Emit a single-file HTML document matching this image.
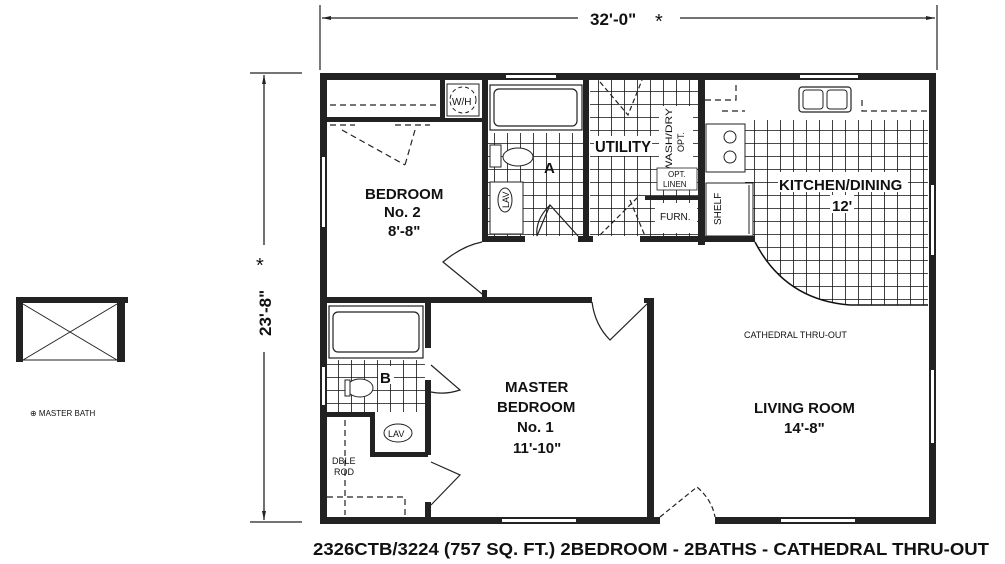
<!DOCTYPE html>
<html><head><meta charset="utf-8"><style>
html,body{margin:0;padding:0;background:#fff;}
svg{display:block;}
text{font-family:"Liberation Sans",sans-serif;fill:#111;}
.b{font-weight:bold;}
</style></head><body>
<svg width="1005" height="564" viewBox="0 0 1005 564" xmlns="http://www.w3.org/2000/svg">
<defs>
<pattern id="t" width="13" height="13" patternUnits="userSpaceOnUse">
<rect width="13" height="13" fill="#fff"/>
<path d="M0 0H13M0 0V13" stroke="#111" stroke-width="1.6"/>
</pattern>
</defs>
<!-- top dimension -->
<line x1="320" y1="5" x2="320" y2="70" stroke="#222" stroke-width="1.2"/>
<line x1="937" y1="5" x2="937" y2="70" stroke="#222" stroke-width="1.2"/>
<line x1="322" y1="18" x2="578" y2="18" stroke="#222" stroke-width="1.3"/>
<line x1="680" y1="18" x2="935" y2="18" stroke="#222" stroke-width="1.3"/>
<path d="M322 18l9-2v4z M935 18l-9-2v4z" fill="#222"/>
<text x="590" y="25" class="b" font-size="17">32'-0"</text>
<text x="655" y="28" font-size="20">*</text>
<!-- left dimension -->
<line x1="250" y1="73" x2="302" y2="73" stroke="#222" stroke-width="1.2"/>
<line x1="250" y1="522" x2="302" y2="522" stroke="#222" stroke-width="1.2"/>
<line x1="264" y1="75" x2="264" y2="245" stroke="#222" stroke-width="1.3"/>
<line x1="264" y1="352" x2="264" y2="520" stroke="#222" stroke-width="1.3"/>
<path d="M264 75l-2 9h4z M264 520l-2-9h4z" fill="#222"/>
<text transform="translate(271,336) rotate(-90)" class="b" font-size="17">23'-8"</text>
<text x="256" y="272" font-size="20">*</text>
<!-- master bath option -->
<rect x="16" y="297" width="112" height="6" fill="#222"/>
<rect x="16" y="297" width="7" height="65" fill="#222"/>
<rect x="117" y="297" width="8" height="65" fill="#222"/>
<path d="M23 304L117 360M117 304L23 360M23 360H117" stroke="#222" stroke-width="1"/>
<text x="30" y="416" font-size="8">⊕ MASTER BATH</text>
<!-- tile areas -->
<rect x="488" y="133" width="95" height="103" fill="url(#t)"/>
<rect x="590" y="80" width="108" height="156" fill="url(#t)"/>
<rect x="327" y="360" width="98" height="52" fill="url(#t)"/>
<path d="M745 120H928V305H850Q785 300 755 242H745Z" fill="url(#t)"/>
<path d="M755 242Q785 300 850 305H928" fill="none" stroke="#111" stroke-width="1.5"/>
<!-- outer walls -->
<rect x="320" y="73" width="616" height="7" fill="#222"/>
<rect x="320" y="73" width="7" height="451" fill="#222"/>
<rect x="929" y="73" width="7" height="451" fill="#222"/>
<rect x="320" y="517" width="616" height="7" fill="#222"/>
<!-- windows -->
<rect x="322" y="157" width="3" height="70" fill="#fff"/>
<rect x="506" y="75" width="50" height="3" fill="#fff"/>
<rect x="800" y="75" width="58" height="3" fill="#fff"/>
<rect x="931" y="185" width="3" height="70" fill="#fff"/>
<rect x="931" y="370" width="3" height="73" fill="#fff"/>
<rect x="322" y="367" width="3" height="38" fill="#fff"/>
<rect x="502" y="519" width="74" height="3" fill="#fff"/>
<rect x="781" y="519" width="74" height="3" fill="#fff"/>
<rect x="660" y="516" width="55" height="9" fill="#fff"/>
<!-- interior walls -->
<rect x="327" y="117" width="113" height="5" fill="#222"/>
<rect x="440" y="80" width="5" height="42" fill="#222"/>
<rect x="445" y="118" width="40" height="4" fill="#222"/>
<rect x="482" y="80" width="6" height="162" fill="#222"/>
<rect x="583" y="80" width="6" height="162" fill="#222"/>
<rect x="698" y="80" width="7" height="165" fill="#222"/>
<rect x="482" y="236" width="43" height="6" fill="#222"/>
<rect x="578" y="236" width="15" height="6" fill="#222"/>
<rect x="640" y="236" width="115" height="6" fill="#222"/>
<rect x="327" y="297" width="265" height="6" fill="#222"/>
<rect x="482" y="290" width="5" height="8" fill="#222"/>
<rect x="425" y="303" width="6" height="45" fill="#222"/>
<rect x="425" y="380" width="6" height="75" fill="#222"/>
<rect x="425" y="502" width="6" height="16" fill="#222"/>
<rect x="327" y="412" width="45" height="5" fill="#222"/>
<rect x="370" y="412" width="5" height="45" fill="#222"/>
<rect x="370" y="452" width="58" height="5" fill="#222"/>
<rect x="647" y="300" width="7" height="218" fill="#222"/>
<rect x="644" y="298" width="10" height="5" fill="#222"/>
<rect x="645" y="196" width="53" height="4" fill="#222"/>
<!-- bedroom2 closet -->
<path d="M330 105H440M342 130L405 165M415 130L405 165M330 125H355M395 125H430" stroke="#222" stroke-width="1.2" stroke-dasharray="6,4" fill="none"/>
<rect x="447" y="84" width="32" height="32" fill="#fff" stroke="#222"/>
<circle cx="463" cy="100" r="13" fill="none" stroke="#222" stroke-dasharray="4,3"/>
<text x="452" y="105" font-size="10">W/H</text>
<path d="M487 298L443 262Q462 246 482 242" fill="none" stroke="#222" stroke-width="1.2"/>
<!-- bath A -->
<rect x="490" y="85" width="92" height="45" fill="#fff" stroke="#222" stroke-width="1.2"/>
<rect x="494" y="89" width="83" height="37" rx="5" fill="#fff" stroke="#222" stroke-width="1.2"/>
<rect x="490" y="145" width="11" height="22" fill="#fff" stroke="#222"/>
<ellipse cx="518" cy="157" rx="15" ry="9" fill="#fff" stroke="#222"/>
<text x="544" y="173" class="b" font-size="15">A</text>
<rect x="490" y="182" width="33" height="52" fill="#fff" stroke="#222"/>
<ellipse cx="505" cy="200" rx="7" ry="12" fill="#fff" stroke="#222"/>
<text transform="translate(509,208) rotate(-90)" font-size="9">LAV</text>
<path d="M537 236L550 205L578 236M537 236Q535 220 550 205" fill="none" stroke="#222" stroke-width="1.2"/>
<!-- utility -->
<rect x="594" y="136" width="58" height="20" fill="#fff"/>
<text x="595" y="152" class="b" font-size="16" textLength="56" lengthAdjust="spacingAndGlyphs">UTILITY</text>
<rect x="659" y="106" width="34" height="66" fill="#fff"/>
<text transform="translate(672,172) rotate(-90)" font-size="9" textLength="64" lengthAdjust="spacingAndGlyphs">WASH/DRY</text>
<text transform="translate(684,152) rotate(-90)" font-size="9">OPT.</text>
<rect x="657" y="168" width="40" height="22" fill="#fff" stroke="#222" stroke-width="0.8"/>
<text x="668" y="177" font-size="8">OPT.</text>
<text x="663" y="187" font-size="8">LINEN</text>
<rect x="655" y="203" width="42" height="30" fill="#fff"/>
<text x="660" y="220" font-size="10">FURN.</text>
<path d="M600 82L628 115L642 80M600 235L640 195M630 200L645 236" fill="none" stroke="#222" stroke-width="1.2" stroke-dasharray="5,3"/>
<!-- kitchen -->
<path d="M705 100H736V82M722 111H745M862 100V111H928" fill="none" stroke="#222" stroke-dasharray="6,4" stroke-width="1.2"/>
<rect x="799" y="87" width="52" height="25" rx="3" fill="#fff" stroke="#222" stroke-width="1.2"/>
<rect x="803" y="90" width="20" height="19" rx="3" fill="#fff" stroke="#222"/>
<rect x="827" y="90" width="20" height="19" rx="3" fill="#fff" stroke="#222"/>
<rect x="706" y="124" width="39" height="48" fill="#fff" stroke="#222"/>
<circle cx="730" cy="137" r="6" fill="#fff" stroke="#222"/>
<circle cx="730" cy="157" r="6" fill="#fff" stroke="#222"/>
<rect x="706" y="183" width="47" height="53" fill="#fff" stroke="#222"/>
<line x1="749" y1="185" x2="749" y2="234" stroke="#222"/>
<text transform="translate(721,225) rotate(-90)" font-size="10">SHELF</text>
<rect x="778" y="172" width="130" height="20" fill="#fff"/>
<text x="779" y="190" class="b" font-size="15">KITCHEN/DINING</text>
<rect x="830" y="195" width="24" height="18" fill="#fff"/>
<text x="832" y="211" class="b" font-size="15">12'</text>
<!-- master bath -->
<rect x="329" y="306" width="94" height="52" fill="#fff" stroke="#222" stroke-width="1.2"/>
<rect x="333" y="312" width="86" height="40" rx="5" fill="#fff" stroke="#222" stroke-width="1.2"/>
<ellipse cx="360" cy="388" rx="13" ry="9" fill="#fff" stroke="#222"/>
<rect x="345" y="380" width="5" height="16" fill="#fff" stroke="#222"/>
<rect x="378" y="366" width="16" height="18" fill="#fff"/>
<text x="380" y="383" class="b" font-size="15">B</text>
<ellipse cx="398" cy="433" rx="14" ry="9" fill="#fff" stroke="#222"/>
<text x="388" y="437" font-size="9">LAV</text>
<path d="M431 365L460 390Q445 395 431 392M431 462L460 475L431 505" fill="none" stroke="#222" stroke-width="1.2"/>
<path d="M345 420V515M327 497H405V515" fill="none" stroke="#222" stroke-dasharray="6,4" stroke-width="1.2"/>
<text x="332" y="464" font-size="9">DBLE</text>
<text x="334" y="475" font-size="9">ROD</text>
<path d="M648 303L610 340Q595 325 592 302" fill="none" stroke="#222" stroke-width="1.2"/>
<path d="M660 517L697 487Q712 500 715 517" fill="none" stroke="#222" stroke-dasharray="5,3" stroke-width="1.2"/>
<!-- labels -->
<text x="365" y="199" class="b" font-size="15">BEDROOM</text>
<text x="384" y="217" class="b" font-size="15">No. 2</text>
<text x="388" y="236" class="b" font-size="15">8'-8"</text>
<text x="505" y="392" class="b" font-size="15">MASTER</text>
<text x="497" y="412" class="b" font-size="15">BEDROOM</text>
<text x="517" y="432" class="b" font-size="15">No. 1</text>
<text x="513" y="453" class="b" font-size="15">11'-10"</text>
<text x="744" y="338" font-size="9">CATHEDRAL THRU-OUT</text>
<text x="754" y="413" class="b" font-size="15">LIVING ROOM</text>
<text x="784" y="433" class="b" font-size="15">14'-8"</text>
<text x="313" y="555" class="b" font-size="17.5" textLength="676" lengthAdjust="spacingAndGlyphs">2326CTB/3224 (757 SQ. FT.) 2BEDROOM - 2BATHS - CATHEDRAL THRU-OUT</text>
</svg>
</body></html>
